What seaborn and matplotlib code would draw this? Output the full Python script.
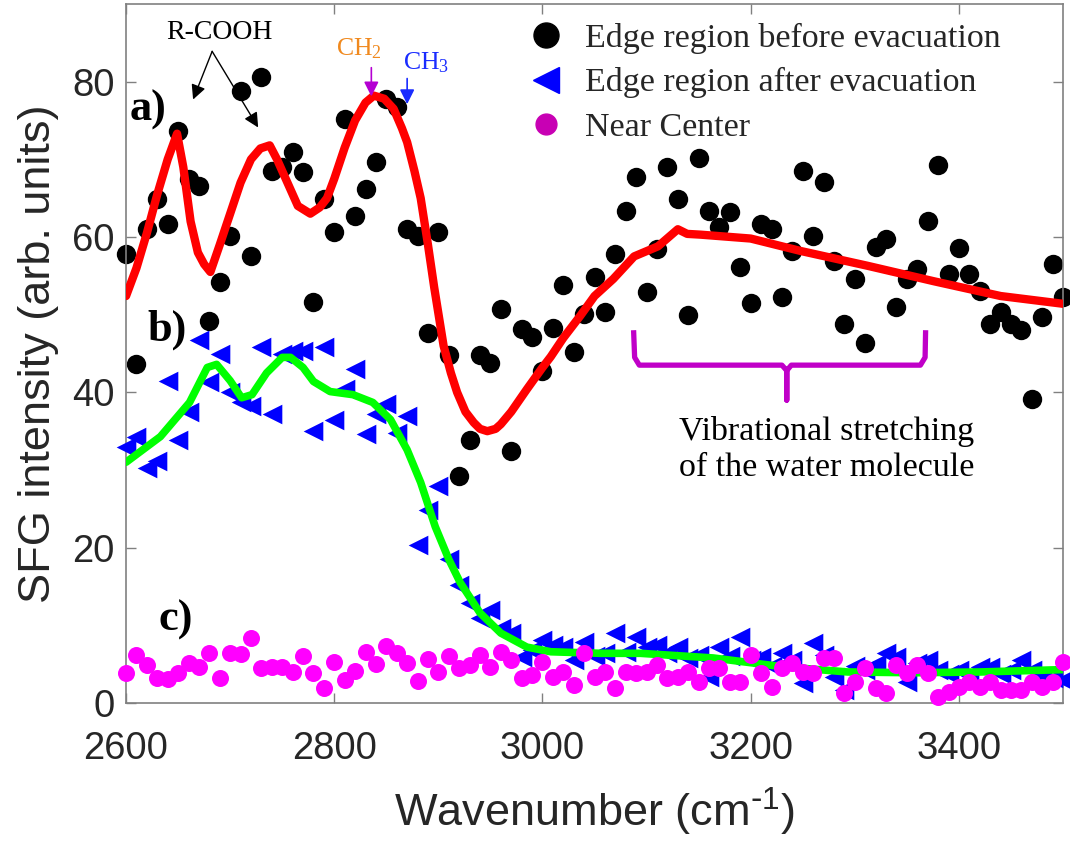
import numpy as np
import seaborn as sns
import matplotlib.pyplot as plt
from matplotlib.lines import Line2D

# wavenumber grid of the measured spectra (cm-1)
wavenumber = np.arange(2600, 3510, 10)

# a) edge region before evacuation
edge_before = [
    57.8, 43.6, 61.0, 64.9, 61.7, 73.7, 67.5, 66.6, 49.2, 54.2,
    60.1, 78.8, 57.6, 80.6, 68.5, 69.0, 70.9, 68.4, 51.6, 64.9,
    60.6, 75.2, 62.7, 66.2, 69.6, 77.8, 76.8, 61.0, 60.1, 47.7,
    60.6, 44.8, 29.2, 33.9, 44.8, 43.8, 50.7, 32.4, 48.1, 47.1,
    42.8, 48.3, 53.8, 45.2, 50.1, 54.8, 50.3, 57.8, 63.4, 67.7,
    52.9, 58.5, 69.0, 64.9, 49.9, 70.2, 63.4, 61.3, 63.2, 56.1,
    51.5, 61.7, 61.0, 52.3, 58.2, 68.5, 60.1, 67.1, 56.9, 48.8,
    54.6, 46.3, 58.7, 59.7, 51.0, 54.6, 55.9, 62.0, 69.3, 55.2,
    58.6, 55.2, 53.0, 48.8, 50.3, 48.8, 48.0, 39.1, 49.7, 56.5,
    52.3,
]

# b) edge region after evacuation
edge_after = [
    33.0, 34.3, 30.3, 31.1, 41.4, 33.9, 37.5, 46.8, 41.3, 44.9,
    40.0, 38.7, 38.2, 45.9, 37.2, 44.9, 45.3, 45.3, 35.0, 45.9,
    36.5, 40.4, 43.0, 34.6, 37.2, 38.5, 34.8, 36.9, 20.4, 24.9,
    27.9, 18.5, 15.2, 12.9, 11.0, 12.0, 9.7, 9.0, 5.9, 6.8,
    8.1, 7.5, 7.2, 5.5, 7.9, 6.0, 6.5, 9.0, 6.6, 8.5,
    7.2, 7.5, 6.4, 7.2, 5.8, 6.2, 3.4, 7.2, 6.0, 8.5,
    5.5, 5.9, 4.8, 6.4, 5.5, 2.6, 7.7, 6.2, 3.4, 1.7,
    4.8, 4.2, 5.0, 6.4, 5.9, 2.7, 5.2, 5.5, 4.3, 3.8,
    4.3, 3.6, 4.6, 4.6, 3.8, 4.2, 5.5, 4.3, 3.4, 3.2,
    3.0,
]

# c) near center
near_center = [
    3.9, 6.2, 4.9, 3.2, 3.1, 3.9, 5.2, 4.6, 6.4, 3.2,
    6.4, 6.3, 8.4, 4.5, 4.6, 4.6, 4.0, 6.0, 3.9, 1.9,
    5.3, 3.0, 4.1, 6.6, 5.0, 7.4, 6.4, 5.2, 2.8, 5.7,
    4.0, 6.0, 4.5, 4.9, 6.2, 4.6, 6.6, 5.5, 3.2, 3.6,
    5.3, 3.4, 4.0, 2.3, 6.4, 3.4, 4.0, 1.9, 4.0, 3.9,
    4.0, 4.9, 3.2, 3.4, 4.0, 2.7, 4.5, 4.5, 2.7, 2.7,
    6.2, 3.9, 2.1, 4.5, 5.2, 4.0, 3.9, 5.8, 5.8, 1.3,
    2.7, 4.5, 1.9, 1.3, 4.9, 3.9, 4.9, 3.9, 0.8, 1.4,
    2.1, 2.7, 2.1, 2.7, 1.7, 1.7, 1.7, 2.7, 2.1, 2.7,
    5.3,
]

# fitted curves
fit_a_x = [2600, 2610, 2620, 2630, 2640, 2649, 2655, 2662, 2669, 2675, 2681,
           2690, 2700, 2710, 2720, 2729, 2738, 2745, 2755, 2765, 2777, 2786,
           2793, 2800, 2810, 2820, 2830, 2838, 2848, 2857, 2865, 2870, 2877,
           2883, 2890, 2896, 2905, 2912, 2918, 2926, 2934, 2940, 2947, 2955,
           2960, 2970, 2985, 3000, 3008, 3020, 3036, 3050, 3068, 3088, 3111,
           3130, 3139, 3152, 3200, 3248, 3312, 3376, 3440, 3500]
fit_a_y = [52.4, 56.0, 60.5, 65.5, 70.0, 73.3, 69.0, 62.0, 58.0, 56.5, 55.5,
           59.0, 63.0, 67.0, 70.0, 71.4, 71.8, 70.0, 67.0, 64.0, 63.0, 63.8,
           65.0, 67.5, 71.5, 75.0, 77.3, 78.2, 77.8, 76.5, 74.0, 72.2, 68.5,
           65.0, 59.0, 53.5, 46.0, 42.5, 40.0, 37.5, 36.1, 35.3, 35.0, 35.3,
           35.9, 37.5, 40.4, 43.2, 44.6, 47.0, 49.8, 52.4, 54.6, 57.5, 58.8,
           61.0, 60.4, 60.3, 59.8, 58.2, 56.3, 54.3, 52.4, 51.4]

fit_b_x = [2600, 2633, 2661, 2678, 2687, 2700, 2711, 2721, 2735, 2750, 2758,
           2770, 2780, 2796, 2818, 2837, 2854, 2870, 2883, 2897, 2910, 2921,
           2940, 2960, 2985, 3008, 3056, 3094, 3164, 3229, 3293, 3357, 3421,
           3500]
fit_b_y = [31.0, 34.3, 38.7, 43.2, 43.6, 41.5, 39.3, 39.7, 42.5, 44.5, 44.5,
           43.2, 41.4, 40.1, 39.7, 38.7, 36.5, 32.6, 28.4, 22.7, 18.5, 15.5,
           11.6, 9.0, 7.2, 6.6, 6.4, 6.4, 5.8, 4.7, 4.0, 3.9, 4.0,
           4.3]

labels = ["Edge region before evacuation", "Edge region after evacuation",
          "Near Center"]


def main():
    sns.set_theme(style="ticks")
    plt.rcParams["font.family"] = ["Liberation Sans", "DejaVu Sans"]
    serif = ["Liberation Serif", "DejaVu Serif"]

    fig = plt.figure(figsize=(10.7, 8.46), dpi=100)
    ax = fig.add_axes([0.1178, 0.169, 0.8757, 0.8263])

    sns.scatterplot(x=wavenumber, y=edge_before, ax=ax, color="black",
                    marker="o", s=195, linewidth=0, clip_on=False, zorder=2)
    sns.lineplot(x=fit_a_x, y=fit_a_y, ax=ax, color="#ff0000", lw=6,
                 sort=False, estimator=None, zorder=3)
    sns.scatterplot(x=wavenumber, y=edge_after, ax=ax, color="#0000ff",
                    marker="<", s=200, linewidth=0, clip_on=False, zorder=4)
    sns.lineplot(x=fit_b_x, y=fit_b_y, ax=ax, color="#00ff00", lw=5.5,
                 sort=False, estimator=None, zorder=5)
    sns.scatterplot(x=wavenumber, y=near_center, ax=ax, color="#ff00ff",
                    marker="o", s=150, linewidth=0, clip_on=False, zorder=6)

    ax.set_xlim(2600, 3500)
    ax.set_ylim(0, 90)
    ax.set_xticks([2600, 2800, 3000, 3200, 3400])
    ax.set_yticks([0, 20, 40, 60, 80])
    ax.tick_params(direction="in", length=7, width=1, top=True, right=True,
                   color="#808080", labelcolor="#262626", labelsize=27.5)
    ax.tick_params(axis="x", pad=20)
    ax.tick_params(axis="y", pad=8)
    for sp in ax.spines.values():
        sp.set_color("#808080")
        sp.set_linewidth(1.2)

    ax.set_xlabel("Wavenumber (cm$^{\\mathregular{\\text{-}1}}$)",
                  fontsize=32.5, color="#262626", labelpad=14)
    ax.set_ylabel("SFG intensity (arb. units)", fontsize=32.5,
                  color="#262626", labelpad=10)

    # legend
    handles = [
        Line2D([], [], ls="none", marker="o", color="black", markersize=18),
        Line2D([], [], ls="none", marker="<", color="#0000ff", markersize=19),
        Line2D([], [], ls="none", marker="o", color="#c800b4", markersize=15),
    ]
    ax.legend(handles, labels, loc="upper left",
              bbox_to_anchor=(0.388, 1.017), frameon=False,
              prop={"family": serif, "size": 24.5}, labelspacing=0.4,
              handletextpad=0.4, handlelength=1.5)

    # panel labels
    for txt, x, y in [("a)", 2621, 76.4), ("b)", 2639, 48.1),
                      ("c)", 2648, 10.7)]:
        ax.text(x, y, txt, fontsize=32, fontweight="bold", family=serif,
                ha="center", va="center", color="black")

    # peak assignments
    ax.text(2690, 86.3, "R-COOH", fontsize=20, family=serif,
            ha="center", va="center", color="black")
    for hx, hy in [(2664.4, 77.7), (2726.9, 74.1)]:
        ax.annotate("", xy=(hx, hy), xytext=(2682.7, 83.9),
                    arrowprops=dict(arrowstyle="-|>", lw=1, color="black",
                                    mutation_scale=22, shrinkA=0, shrinkB=0))
    ax.text(2823.6, 84.3, "$\\mathregular{CH_2}$", fontsize=18.5,
            family=serif, ha="center", va="center", color="#f0891e")
    ax.annotate("", xy=(2835.6, 78.1), xytext=(2835.6, 81.8),
                arrowprops=dict(arrowstyle="-|>", lw=1.2, color="#b400d2",
                                mutation_scale=22, shrinkA=0, shrinkB=0))
    ax.text(2888, 82.4, "$\\mathregular{CH_3}$", fontsize=18.5,
            family=serif, ha="center", va="center", color="#1a2cff")
    ax.annotate("", xy=(2870, 77.1), xytext=(2870, 80.4),
                arrowprops=dict(arrowstyle="-|>", lw=1.2, color="#1a2cff",
                                mutation_scale=22, shrinkA=0, shrinkB=0))

    # brace over the water band
    brace_x = [3087.5, 3088.5, 3093, 3230, 3234.6, 3234.6, 3234.6, 3239,
               3363, 3367.5, 3368]
    brace_y = [48.0, 44.5, 43.5, 43.5, 42.8, 39.0, 42.8, 43.5,
               43.5, 44.5, 48.0]
    ax.plot(brace_x, brace_y, color="#c000c8", lw=3.8,
            solid_joinstyle="round", solid_capstyle="butt", zorder=3)
    ax.text(3272.6, 34.9, "Vibrational stretching", fontsize=24.5,
            family=serif, ha="center", va="center", color="black")
    ax.text(3272.6, 30.3, "of the water molecule", fontsize=24.5,
            family=serif, ha="center", va="center", color="black")

    plt.savefig("out.png", dpi=100)


if __name__ == "__main__":
    main()
